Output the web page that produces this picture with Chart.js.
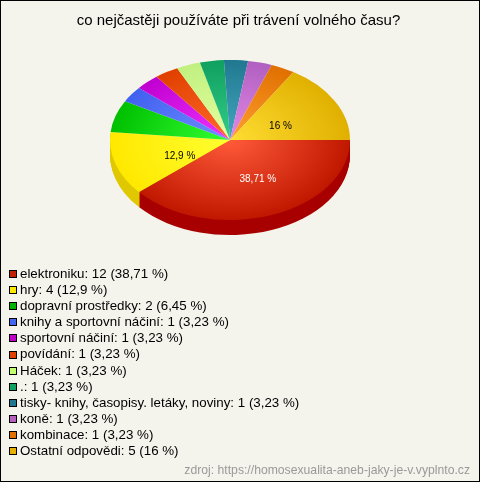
<!DOCTYPE html>
<html lang="cs">
<head>
<meta charset="UTF-8" />
<title>co nejčastěji používáte</title>
<script src="https://cdn.jsdelivr.net/npm/chart.js"></script>
<style>
  html, body { margin: 0; padding: 0; background: #f5f4ec; }
  #wrap { position: relative; width: 480px; height: 482px; overflow: hidden; font-family: "Liberation Sans", Arial, sans-serif; color: #000; }
  #wrap::after { content: ""; position: absolute; inset: 0; border: 1px solid #000; box-sizing: border-box; pointer-events: none; }
  canvas { position: absolute; left: 0; top: 0; }
  #title { position: absolute; left: 0; width: 477px; top: 11px; text-align: center; font-size: 15px; line-height: 18px; }
  #legend { position: absolute; left: 9px; top: 266px; font-size: 13.33px; line-height: 16.1px; }
  #legend div { height: 16.1px; white-space: nowrap; display: flex; align-items: center; }
  #legend i { display: inline-block; width: 6px; height: 6px; border: 1px solid #000; margin-right: 3px; }
  #source { position: absolute; right: 10px; top: 463px; font-size: 12.2px; color: #999; }
</style>
</head>
<body>
<div id="wrap">
  <canvas id="pie" width="480" height="482"></canvas>
  <div id="title"></div>
  <div id="legend"></div>
  <div id="source">zdroj: https://homosexualita-aneb-jaky-je-v.vyplnto.cz</div>
</div>
<script>
const titleText = "co nejčastěji používáte při trávení volného času?";
const categories = ["elektroniku", "hry", "dopravní prostředky", "knihy a sportovní náčiní", "sportovní náčiní", "povídání", "Háček", ".", "tisky- knihy, časopisy. letáky, noviny", "koně", "kombinace", "Ostatní odpovědi"];
const counts = [12, 4, 2, 1, 1, 1, 1, 1, 1, 1, 1, 5];
const percents = ["38,71", "12,9", "6,45", "3,23", "3,23", "3,23", "3,23", "3,23", "3,23", "3,23", "3,23", "16"];
const innerColors = ["#ff5a3a", "#ffff30", "#33ff33", "#6f8fff", "#ee33ff", "#ff6a2a", "#e6ffa0", "#33cc88", "#44a8c0", "#e488e8", "#ffa030", "#ffdd33"];
const outerColors = ["#c01800", "#ffe800", "#00c000", "#4060f0", "#c000d0", "#e04000", "#c0f080", "#10a060", "#207890", "#b060c0", "#e07000", "#e0b000"];
const sideColors = ["#a80000", "#e0c800"];
const legendColors = ["#c02000", "#ffe800", "#00b400", "#4068f0", "#c000c8", "#e04000", "#c0ff70", "#10a060", "#207890", "#b860c0", "#e07000", "#e8b000"];
const labelled = [0, 1, 11];

const squash = 80 / 120;
const depth = 15;

document.getElementById("title").textContent = titleText;

// legend is plain text under the pie
const legendBox = document.getElementById("legend");
categories.forEach((name, i) => {
  const row = document.createElement("div");
  const mark = document.createElement("i");
  mark.style.background = legendColors[i];
  row.appendChild(mark);
  row.appendChild(document.createTextNode(`${name}: ${counts[i]} (${percents[i]} %)`));
  legendBox.appendChild(row);
});

function flatten(ctx, cy) {
  ctx.translate(0, cy);
  ctx.scale(1, squash);
  ctx.translate(0, -cy);
}

// squashes the round pie into an ellipse and adds the rim below it
const tiltPlugin = {
  id: "tilt",
  beforeDatasetsDraw(chart) {
    const arcs = chart.getDatasetMeta(0).data;
    const ctx = chart.ctx;
    const cy = arcs[0].y;
    for (let d = depth; d >= 1; d--) {
      ctx.save();
      ctx.translate(0, d);
      flatten(ctx, cy);
      [0, 1].forEach(i => {
        const arc = arcs[i];
        const fill = arc.options.backgroundColor;
        arc.options.backgroundColor = sideColors[i];
        arc.draw(ctx);
        arc.options.backgroundColor = fill;
      });
      ctx.restore();
    }
    ctx.save();
    flatten(ctx, cy);
  },
  afterDatasetsDraw(chart) {
    const ctx = chart.ctx;
    ctx.restore();
    const arcs = chart.getDatasetMeta(0).data;
    const cy = arcs[0].y;
    // small shift per labelled slice, the labels do not sit exactly mid-slice
    const nudge = { 0: [7, 2], 1: [7, 4], 11: [-2, 6] };
    ctx.save();
    ctx.font = "10px 'Liberation Sans', Arial, sans-serif";
    ctx.textAlign = "center";
    ctx.textBaseline = "middle";
    labelled.forEach(i => {
      const p = arcs[i].getCenterPoint();
      ctx.fillStyle = i === 0 ? "#fff" : "#000";
      ctx.fillText(`${percents[i]} %`, p.x + nudge[i][0], cy + (p.y - cy) * squash + nudge[i][1]);
    });
    ctx.restore();
  }
};

new Chart(document.getElementById("pie"), {
  type: "pie",
  data: {
    labels: categories,
    datasets: [{
      data: counts,
      borderWidth: 0,
      backgroundColor(c) {
        const area = c.chart.chartArea;
        if (!area) return outerColors[c.dataIndex];
        const x = (area.left + area.right) / 2;
        const y = (area.top + area.bottom) / 2;
        const r = Math.min(area.width, area.height) / 2;
        const g = c.chart.ctx.createRadialGradient(x, y, 0, x, y, r);
        g.addColorStop(0, innerColors[c.dataIndex]);
        g.addColorStop(1, outerColors[c.dataIndex]);
        return g;
      }
    }]
  },
  options: {
    responsive: false,
    animation: false,
    rotation: 90,
    layout: { padding: { left: 110, right: 130, top: 20, bottom: 222 } },
    plugins: {
      legend: { display: false },
      tooltip: { enabled: false },
      title: { display: false }
    }
  },
  plugins: [tiltPlugin]
});
</script>
</body>
</html>
